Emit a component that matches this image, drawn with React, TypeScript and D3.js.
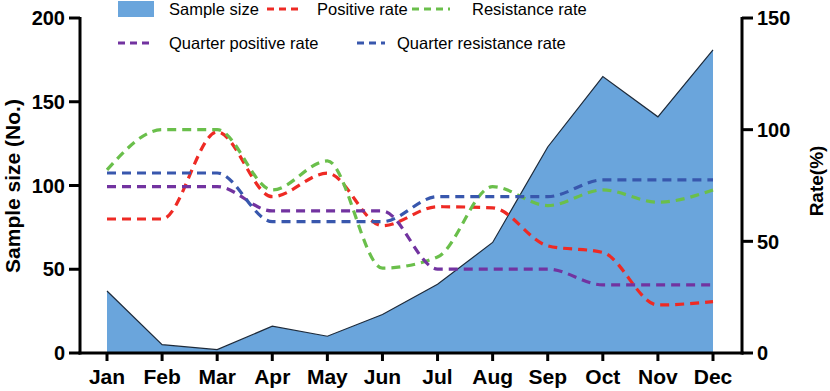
import React from "react";
import * as d3 from "d3";

const months = ["Jan", "Feb", "Mar", "Apr", "May", "Jun", "Jul", "Aug", "Sep", "Oct", "Nov", "Dec"];
const sampleSize = [37, 5, 2, 16, 10, 23, 41, 66, 123, 165, 141, 181];
const positiveRate = [60, 60, 99, 70, 80.5, 57, 65.5, 65, 48, 45, 21.5, 23];
const resistanceRate = [82, 100, 100, 73, 86, 38, 43, 74.5, 66, 73, 67.5, 73];
const quarterPositiveRate = [74.5, 74.5, 74.5, 63.6, 63.6, 63.6, 37.6, 37.6, 37.6, 30.5, 30.5, 30.5];
const quarterResistanceRate = [80.6, 80.6, 80.6, 58.8, 58.8, 58.8, 70, 70, 70, 77.5, 77.5, 77.5];
const leftTicks = [0, 50, 100, 150, 200];
const rightTicks = [0, 50, 100, 150];

const rateSeries = [
  { name: "Positive rate", values: positiveRate, color: "#ee2a24" },
  { name: "Resistance rate", values: resistanceRate, color: "#6abf4b" },
  { name: "Quarter positive rate", values: quarterPositiveRate, color: "#7233a0" },
  { name: "Quarter resistance rate", values: quarterResistanceRate, color: "#3857ad" },
];

export default function App() {
  const W = 830, H = 391;
  const x = d3.scalePoint<string>().domain(months).range([107, 713]);
  const yL = d3.scaleLinear().domain([0, 200]).range([353, 18]);
  const yR = d3.scaleLinear().domain([0, 150]).range([353, 18]);
  const font = "'Liberation Sans', Arial, sans-serif";

  const area = d3.area<number>()
    .x((_, i) => x(months[i])!)
    .y0(yL(0))
    .y1((d) => yL(d));
  const topLine = d3.line<number>()
    .x((_, i) => x(months[i])!)
    .y((d) => yL(d));
  const rateLine = d3.line<number>()
    .x((_, i) => x(months[i])!)
    .y((d) => yR(d))
    .curve(d3.curveMonotoneX);

  const axisLeftX = 80, axisRightX = 742, axisY = 353;
  const legendSize = 16.5;

  return (
    <svg width={W} height={H} style={{ position: "absolute", left: 0, top: 0, background: "#fff" }} fontFamily={font}>
      <path d={area(sampleSize)!} fill="#6aa5dc" />
      <path d={topLine(sampleSize)!} fill="none" stroke="#1d2a3a" strokeWidth={1.2} />
      {rateSeries.map((s) => (
        <path key={s.name} d={rateLine(s.values)!} fill="none" stroke={s.color} strokeWidth={3.2} strokeDasharray="9 6" />
      ))}
      {/* axes */}
      <line x1={axisLeftX} x2={axisLeftX} y1={yL(200) - 1} y2={axisY + 1.5} stroke="#000" strokeWidth={3} />
      <line x1={axisRightX} x2={axisRightX} y1={yR(150) - 1} y2={axisY + 1.5} stroke="#000" strokeWidth={3} />
      <line x1={axisLeftX - 1.5} x2={axisRightX + 1.5} y1={axisY} y2={axisY} stroke="#000" strokeWidth={3} />
      {leftTicks.map((t) => (
        <g key={"l" + t}>
          <line x1={axisLeftX - 11} x2={axisLeftX} y1={yL(t)} y2={yL(t)} stroke="#000" strokeWidth={3} />
          <text x={axisLeftX - 15} y={yL(t)} dy="0.36em" textAnchor="end" fontSize={20} fontWeight="bold">{t}</text>
        </g>
      ))}
      {rightTicks.map((t) => (
        <g key={"r" + t}>
          <line x1={axisRightX} x2={axisRightX + 11} y1={yR(t)} y2={yR(t)} stroke="#000" strokeWidth={3} />
          <text x={axisRightX + 15} y={yR(t)} dy="0.36em" textAnchor="start" fontSize={20} fontWeight="bold">{t}</text>
        </g>
      ))}
      {months.map((m) => (
        <g key={m}>
          <line x1={x(m)!} x2={x(m)!} y1={axisY} y2={axisY + 8} stroke="#000" strokeWidth={3} />
          <text x={x(m)!} y={384} textAnchor="middle" fontSize={21} fontWeight="bold">{m}</text>
        </g>
      ))}
      <text transform="translate(20,186) rotate(-90)" textAnchor="middle" fontSize={21} fontWeight="bold">Sample size (No.)</text>
      <text transform="translate(823,181) rotate(-90)" textAnchor="middle" fontSize={19} fontWeight="bold">Rate(%)</text>
      {/* legend */}
      <rect x={118} y={1} width={36} height={16} fill="#6aa5dc" />
      <text x={169} y={15} fontSize={legendSize}>Sample size</text>
      <line x1={267} x2={298} y1={9} y2={9} stroke={rateSeries[0].color} strokeWidth={3.2} strokeDasharray="7 5" />
      <text x={317} y={15} fontSize={legendSize}>{rateSeries[0].name}</text>
      <line x1={412} x2={450} y1={9} y2={9} stroke={rateSeries[1].color} strokeWidth={3.2} strokeDasharray="7 5" />
      <text x={472} y={15} fontSize={legendSize}>{rateSeries[1].name}</text>
      <line x1={118} x2={153} y1={43} y2={43} stroke={rateSeries[2].color} strokeWidth={3.2} strokeDasharray="7 5" />
      <text x={169} y={49} fontSize={legendSize}>{rateSeries[2].name}</text>
      <line x1={357} x2={385} y1={43} y2={43} stroke={rateSeries[3].color} strokeWidth={3.2} strokeDasharray="7 5" />
      <text x={397} y={49} fontSize={legendSize}>{rateSeries[3].name}</text>
    </svg>
  );
}
